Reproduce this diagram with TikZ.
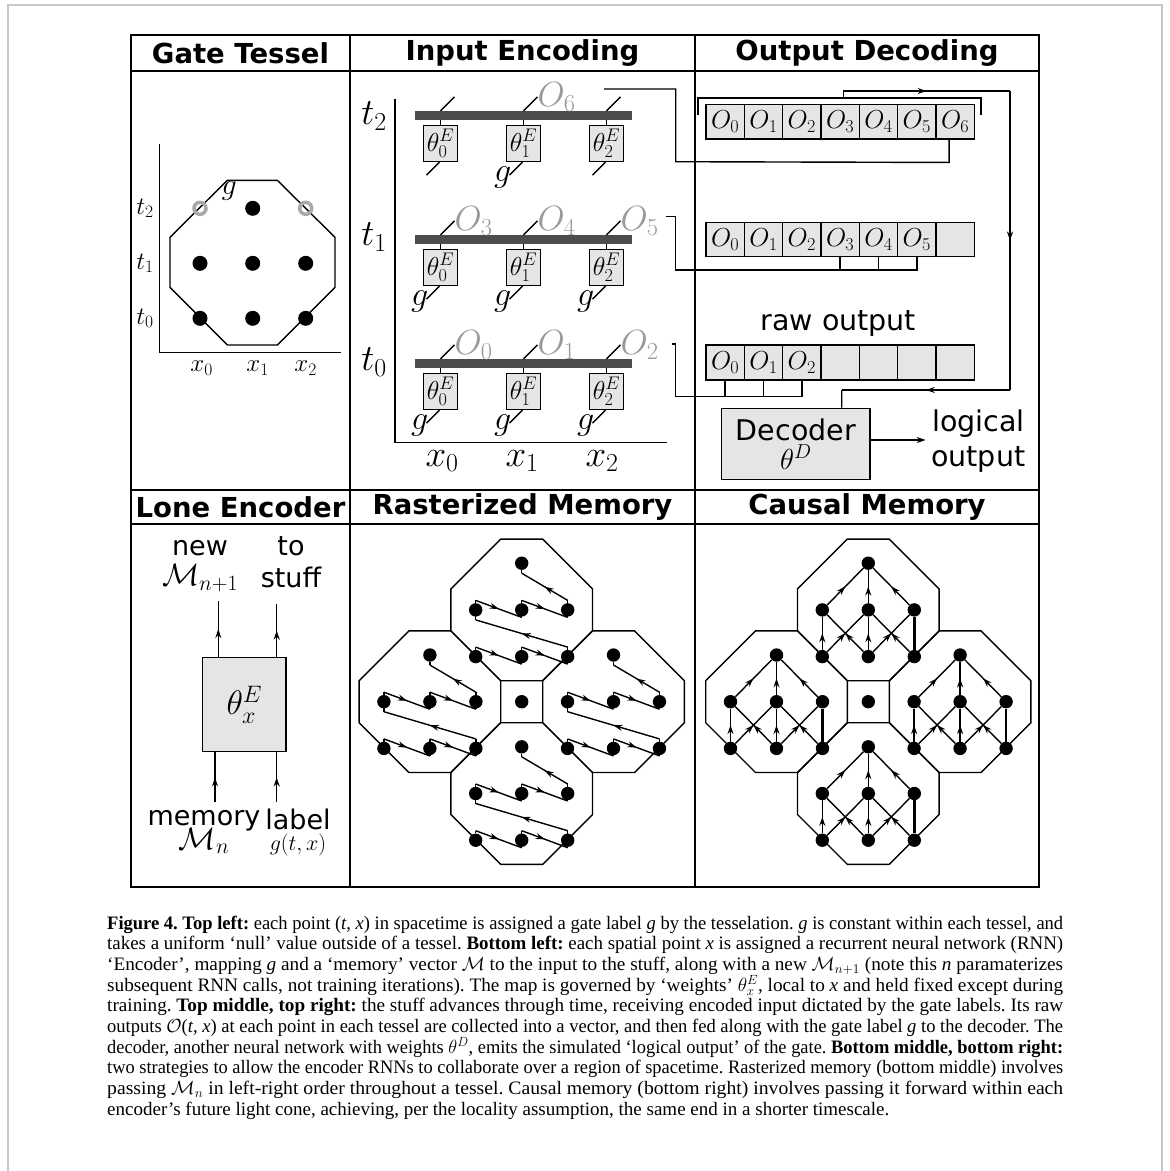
\RequirePackage{fix-cm}
\documentclass[tikz,border=0pt]{standalone}
\usepackage{graphicx}
\usepackage{fontspec}
\setmainfont{Liberation Serif}
\newfontfamily\dejavu{DejaVu Sans}
\usetikzlibrary{arrows.meta,decorations.markings,calc}
\definecolor{olab}{gray}{0.6}
\definecolor{barc}{gray}{0.3}
\definecolor{boxf}{gray}{0.9}
\definecolor{framec}{gray}{0.78}
\definecolor{ringc}{gray}{0.66}
\newcommand\fs[1]{\fontsize{#1}{#1}\selectfont}
\newcommand\tightls{\lineskiplimit=-60pt\relax}
\newcommand\capline[1]{\resizebox{956pt}{\height}{#1}}
\tikzset{
  gridline/.style={line width=1.8pt},
  ln/.style={line width=1.4pt},
  hdr/.style={font=\dejavu\bfseries\fs{27.5}},
  sans/.style={font=\dejavu\fs{28.5}},
  stack/.style={align=center,inner sep=0pt,font={\dejavu\fontsize{27}{#1}\selectfont\tightls}},
  midarrow/.style={postaction={decorate,decoration={markings,mark=at position 0.5 with {\arrow{Stealth[length=9pt,width=6pt]}}}}},
  bigdot/.style={circle,fill=black,inner sep=0pt,minimum size=15pt},
  ring/.style={circle,draw=ringc,line width=3.5pt,inner sep=0pt,minimum size=12pt},
  mdot/.style={circle,fill=black,inner sep=0pt,minimum size=13.4pt},
  octline/.style={line width=1.4pt,line join=miter},
  ebox/.style={draw,fill=boxf,line width=1.4pt,minimum width=34pt,minimum height=36pt,inner sep=0pt,font=\fs{26}},
  cell/.style={draw,fill=boxf,line width=1.4pt,minimum width=38.33pt,minimum height=34.7pt,inner sep=0pt,font=\fs{26}},
  barnode/.style={fill=barc,minimum width=217pt,minimum height=9pt,inner sep=0pt},
  olabel/.style={text=olab,font=\fs{35},inner sep=0pt,anchor=base west},
  glabel/.style={font=\fs{34},inner sep=0pt,anchor=base east},
  caption/.style={anchor=base west,inner sep=0pt,font=\fontsize{19}{20}\selectfont\frenchspacing},
}
\begin{document}
\begin{tikzpicture}[x=1pt,y=-1pt]
\fill[white] (0,0) rectangle (1170,1171);
\useasboundingbox (0,0) rectangle (1170,1171);
% outer frame
\draw[framec,line width=1.2pt] (8,1171) -- (8,5) -- (1162,5) -- (1162,1171);
% grid
\draw[gridline] (131,35) rectangle (1039,887);
\draw[gridline] (350,35) -- (350,887) (695,35) -- (695,887);
\draw[gridline] (131,71) -- (1039,71) (131,490) -- (1039,490) (131,524) -- (1039,524);
% headers
\node[hdr] (h1) at (240.5,53) {Gate Tessel};
\node[hdr] (h2) at (522.5,53) {Input Encoding};
\node[hdr] (h3) at (867,53) {Output Decoding};
\node[hdr] (h4) at (240.5,507) {Lone Encoder};
\node[hdr] (h5) at (522.5,507) {Rasterized Memory};
\node[hdr] (h6) at (867,507) {Causal Memory};

% ===== Gate Tessel =====
\draw[ln] (159.3,144.3) -- (159.3,352.3) -- (340.7,352.3);
\draw[octline] (227.3,180.3) -- (277.3,180.3) -- (335,237.3) -- (335,287.3) -- (277.3,345) -- (227.3,345) -- (170,287.3) -- (170,237.3) -- cycle;
\node[ring] (g20) at (200,208.3) {};
\node[bigdot] (g21) at (252.7,208.3) {};
\node[ring] (g22) at (305.7,208.3) {};
\foreach \r/\y in {1/263.3,0/318.3}{
  \foreach \c/\x in {0/200,1/252.7,2/305.7}{
    \node[bigdot] (g\r\c) at (\x,\y) {};
  }
}
\node[font=\fs{30},inner sep=0pt] (gg) at (229.3,191) {$g$};
\node[font=\fs{25}] (gt2) at (145,208.3) {$t_2$};
\node[font=\fs{25}] (gt1) at (145,263.3) {$t_1$};
\node[font=\fs{25}] (gt0) at (145,318.3) {$t_0$};
\node[font=\fs{25}] (gx0) at (201.7,368.3) {$x_0$};
\node[font=\fs{25}] (gx1) at (257.7,368.3) {$x_1$};
\node[font=\fs{25}] (gx2) at (305.7,368.3) {$x_2$};

% ===== Input Encoding =====
\draw[ln] (395,99) -- (395,442.7) -- (667.3,442.7);
\foreach \r/\by in {0/363.5,1/239.5,2/115.5}{
  \node[barnode] (bar\r) at (523.5,\by) {};
  \foreach \c/\cx in {0/440.5,1/523.5,2/606.5}{
    \node[ebox] (e\r\c) at (\cx,\by+28) {$\theta^E_{\c}$};
    \draw[ln] (e\r\c.north) -- (e\r\c.north |- bar\r.south);
    \draw[ln] (e\r\c.north |- bar\r.north) -- ++(14,-14) coordinate (up\r\c);
    \draw[ln] ($(e\r\c.south)+(-1,0)$) -- ++(-13,13) coordinate (dn\r\c);
  }
}
\foreach \r/\c/\k in {0/0/0,0/1/1,0/2/2,1/0/3,1/1/4,1/2/5,2/1/6}{
  \node[olabel] (O\k) at ($(up\r\c)+(0,9.5)$) {$O_{\k}$};
}
\foreach \r/\c in {0/0,0/1,0/2,1/0,1/1,1/2,2/1}{
  \node[glabel] (gl\r\c) at ($(dn\r\c)+(2,6)$) {$g$};
}
\node[font=\fs{37}] (it2) at (374,116) {$t_2$};
\node[font=\fs{37}] (it1) at (374,237) {$t_1$};
\node[font=\fs{37}] (it0) at (374,362) {$t_0$};
\node[font=\fs{37}] (ix0) at (442,461) {$x_0$};
\node[font=\fs{37}] (ix1) at (522,461) {$x_1$};
\node[font=\fs{37}] (ix2) at (602,461) {$x_2$};

% ===== Output Decoding =====
\foreach \k in {0,...,6}{
  \node[cell] (a\k) at ({706+38.33*(\k+0.5)},121.7) {$O_{\k}$};
  \node[cell,minimum height=34pt] (b\k) at ({706+38.33*(\k+0.5)},239.7) {\ifnum\k<6 $O_{\k}$\fi};
  \node[cell,minimum height=35pt] (c\k) at ({706+38.33*(\k+0.5)},362.5) {\ifnum\k<3 $O_{\k}$\fi};
}
\draw[line width=2pt] (698.3,115) -- (698.3,97.7) -- (981,97.7) -- (981,115);
\node[sans] (raw) at (838.3,323.3) {raw output};
\node[draw,fill=boxf,line width=1.4pt,minimum width=148.3pt,minimum height=71pt,inner sep=0pt,align=center,font={\dejavu\fontsize{28.5}{29}\selectfont\tightls}] (dec) at (795.85,443.8) {Decoder\\{\fs{29}$\theta^D$}};
\node[font=\dejavu\fontsize{28.5}{35}\selectfont,align=center] (lo) at (978.3,441.5) {logical\\output};
\draw[ln,-{Stealth[length=9pt,width=6pt]}] ($(dec.east)+(0,-3.8)$) -- ++(55,0);
% feedback loop
\coordinate (fb) at (843.3,97.7);
\draw[ln] (fb) -- (843.3,91);
\draw[ln,midarrow] (843.3,91) -- (1010,91);
\draw[ln,midarrow] (1010,91) -- (1010,390);
\draw[ln,midarrow] (1010,390) -- (841.7,390);
\draw[ln] (841.7,390) -- ($(dec.north)+(45.85,0)$);
% connectors from encoding
\coordinate (s6) at (604,89);
\draw[ln] (s6) -- (675.7,89) -- (675.7,161.7) -- ($(a6.south)+(-6,22.7)$) -- ($(a6.south)+(-6,0)$);
\coordinate (h1c) at (675.7,270);
\draw[ln] (666,216.7) -- (675.7,216.7) -- (h1c) -| (b5.south);
\draw[ln] (b3.south) -- (b3.south |- h1c);
\draw[ln] (b4.south) -- (b4.south |- h1c);
\coordinate (h0c) at (675.7,396.7);
\draw[ln] (671.7,344) -- (675.7,344) -- (h0c) -| (c2.south);
\draw[ln] (c0.south) -- (c0.south |- h0c);
\draw[ln] (c1.south) -- (c1.south |- h0c);

% ===== Lone Encoder =====
\node[draw,fill=boxf,line width=1.4pt,minimum width=83.3pt,minimum height=94pt,inner sep=0pt,font=\fs{34}] (enc) at (244.35,704.7) {$\theta^E_x$};
\node[stack=30] (newm) at (200,566) {new\\{\fs{31}$\mathcal{M}_{n+1}$}};
\node[stack=32] (tostuff) at (291,562) {to\\stuff};
\node[stack=24] (memm) at (204,832) {memory\\{\fs{31}$\mathcal{M}_n$}};
\node[stack=21] (labg) at (298,832) {label\\{\fs{22}$g(t,x)$}};
\draw[ln,midarrow] ($(enc.north)+(-26.05,0)$) -- ++(0,-56);
\draw[ln,midarrow] ($(enc.north)+(32.35,0)$) -- ++(0,-52.7);
\draw[ln,midarrow] ($(enc.south)+(-29.35,50)$) -- ($(enc.south)+(-29.35,0)$);
\draw[ln,midarrow] ($(enc.south)+(32.35,50)$) -- ($(enc.south)+(32.35,0)$);

% ===== Rasterized Memory =====
\draw[octline] (500.7,680.7) rectangle (542.7,722.7);
\node[mdot] (rc) at (521.7,701.7) {};
\foreach \nm/\cx/\cy in {T/521.7/609.9,L/429.9/701.7,R/613.5/701.7,B/521.7/793.5}{
  \begin{scope}[shift={(\cx,\cy)}]
    \draw[octline] (-21,-70.8) -- (21,-70.8) -- (70.8,-21) -- (70.8,21) -- (21,70.8) -- (-21,70.8) -- (-70.8,21) -- (-70.8,-21) -- cycle;
    \node[mdot] (r\nm-b0) at (-46,46.7) {};
    \node[mdot] (r\nm-b1) at (0,46.7) {};
    \node[mdot] (r\nm-b2) at (46,46.7) {};
    \node[mdot] (r\nm-m0) at (-46,0) {};
    \node[mdot] (r\nm-m1) at (0,0) {};
    \node[mdot] (r\nm-m2) at (46,0) {};
    \node[mdot] (r\nm-t) at (0,-46.7) {};
    \draw[ln] (r\nm-b0) -- (-46,37.2);
    \draw[ln,midarrow] (-46,37.2) -- (0,54.2);
    \draw[ln] (0,54.2) -- (0,37.2);
    \draw[ln,midarrow] (0,37.2) -- (46,54.2);
    \draw[ln] (46,54.2) -- (46,37.2);
    \draw[ln,midarrow] (46,37.2) -- (-46,10);
    \draw[ln] (-46,10) -- (-46,-9.5);
    \draw[ln,midarrow] (-46,-9.5) -- (0,7.5);
    \draw[ln] (0,7.5) -- (0,-9.5);
    \draw[ln,midarrow] (0,-9.5) -- (46,7.5);
    \draw[ln] (46,7.5) -- (46,-9.5);
    \draw[ln,midarrow] (46,-9.5) -- (0,-36.7);
    \draw[ln] (0,-36.7) -- (r\nm-t);
  \end{scope}
}

% ===== Causal Memory =====
\draw[octline] (847.3,680.7) rectangle (889.3,722.7);
\node[mdot] (cc) at (868.3,701.7) {};
\foreach \nm/\cx/\cy in {T/868.3/609.9,L/776.5/701.7,R/960.1/701.7,B/868.3/793.5}{
  \begin{scope}[shift={(\cx,\cy)}]
    \draw[octline] (-21,-70.8) -- (21,-70.8) -- (70.8,-21) -- (70.8,21) -- (21,70.8) -- (-21,70.8) -- (-70.8,21) -- (-70.8,-21) -- cycle;
    \node[mdot] (k\nm-b0) at (-46,46.7) {};
    \node[mdot] (k\nm-b1) at (0,46.7) {};
    \node[mdot] (k\nm-b2) at (46,46.7) {};
    \node[mdot] (k\nm-m0) at (-46,0) {};
    \node[mdot] (k\nm-m1) at (0,0) {};
    \node[mdot] (k\nm-m2) at (46,0) {};
    \node[mdot] (k\nm-t) at (0,-46.7) {};
    \draw[ln,midarrow] (k\nm-b0) -- (k\nm-m0);
    \draw[ln,midarrow] (k\nm-b0) -- (k\nm-m1);
    \draw[ln,midarrow] (k\nm-b1) -- (k\nm-m0);
    \draw[ln,midarrow] (k\nm-b1) -- (k\nm-m1);
    \draw[ln,midarrow] (k\nm-b1) -- (k\nm-m2);
    \draw[ln,midarrow] (k\nm-b2) -- (k\nm-m1);
    \draw[line width=2.6pt] (k\nm-b2) -- (k\nm-m2);
    \draw[ln,midarrow] (k\nm-m0) -- (k\nm-t);
    \draw[ln,midarrow] (k\nm-m1) -- (k\nm-t);
    \draw[ln,midarrow] (k\nm-m2) -- (k\nm-t);
  \end{scope}
}

% ===== Caption =====
\node[caption] (cap1) at (107,929) {\capline{\textbf{Figure 4. Top left:} each point (\textit{t}, \textit{x}) in spacetime is assigned a gate label \textit{g} by the tesselation. \textit{g} is constant within each tessel, and}};
\node[caption] (cap2) at (107,949.7) {\capline{takes a uniform ‘null’ value outside of a tessel. \textbf{Bottom left:} each spatial point \textit{x} is assigned a recurrent neural network (RNN)}};
\node[caption] (cap3) at (107,970.4) {\capline{‘Encoder’, mapping \textit{g} and a ‘memory’ vector $\mathcal{M}$ to the input to the stuff, along with a new $\mathcal{M}_{n+1}$ (note this \textit{n} paramaterizes}};
\node[caption] (cap4) at (107,991.1) {\capline{subsequent RNN calls, not training iterations). The map is governed by ‘weights’ $\theta^E_x$, local to \textit{x} and held fixed except during}};
\node[caption] (cap5) at (107,1011.8) {\capline{training. \textbf{Top middle, top right:} the stuff advances through time, receiving encoded input dictated by the gate labels. Its raw}};
\node[caption] (cap6) at (107,1032.5) {\capline{outputs $\mathcal{O}$(\textit{t}, \textit{x}) at each point in each tessel are collected into a vector, and then fed along with the gate label \textit{g} to the decoder. The}};
\node[caption] (cap7) at (107,1053.2) {\capline{decoder, another neural network with weights $\theta^D$, emits the simulated ‘logical output’ of the gate. \textbf{Bottom middle, bottom right:}}};
\node[caption] (cap8) at (107,1073.9) {\capline{two strategies to allow the encoder RNNs to collaborate over a region of spacetime. Rasterized memory (bottom middle) involves}};
\node[caption] (cap9) at (107,1094.6) {\capline{passing $\mathcal{M}_n$ in left-right order throughout a tessel. Causal memory (bottom right) involves passing it forward within each}};
\node[caption] (cap10) at (107,1115.3) {encoder’s future light cone, achieving, per the locality assumption, the same end in a shorter timescale.};
\end{tikzpicture}
\end{document}
